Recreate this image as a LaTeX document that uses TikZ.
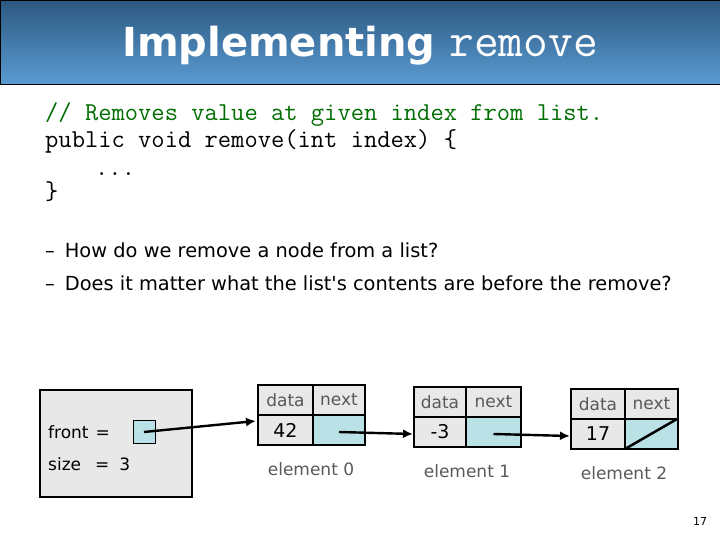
\documentclass[tikz,border=0pt]{standalone}
\usepackage{fontspec}
\setmainfont{DejaVu Sans}
\usetikzlibrary{arrows.meta}
\definecolor{cellblue}{RGB}{185,225,230}
\definecolor{cellgray}{RGB}{232,232,232}
\definecolor{cgreen}{RGB}{0,110,0}
\definecolor{htop}{RGB}{44,88,128}
\definecolor{hbot}{RGB}{90,155,210}
\tikzset{
  lbl/.style={font=\fontsize{17}{17}\selectfont,text=black!65},
  val/.style={font=\fontsize{19}{19}\selectfont},
  ptr/.style={line width=2.4pt,-{Latex[length=10pt,width=9pt]}},
  codet/.style={anchor=base west,inner sep=0pt,font=\ttfamily\fontsize{25.8}{25.8}\selectfont}
}
\begin{document}
\begin{tikzpicture}[x=1pt,y=-1pt]
\useasboundingbox (0,0) rectangle (720,540);
\shade[top color=htop,bottom color=hbot,draw=black,line width=0.8pt] (0,0) rectangle (720,84);
\node[text=white,anchor=base] (title) at (360,57) {\fontsize{40}{40}\selectfont\bfseries Implementing \ttfamily\mdseries\fontsize{48}{48}\selectfont remove};
\node[codet,text=cgreen] (c1) at (45,121) {// Removes value at given index from list.};
\node[codet] (c2) at (45,148) {public void remove(int index) \{};
\node[codet] (c3) at (95,176) {...};
\node[codet] (c4) at (45,200) {\}};
\node[anchor=base west,inner sep=0pt,font=\fontsize{19.4}{19.4}\selectfont] (b1) at (45,258) {–\hspace{10pt}How do we remove a node from a list?};
\node[anchor=base west,inner sep=0pt,font=\fontsize{19.4}{19.4}\selectfont] (b2) at (45,290) {–\hspace{10pt}Does it matter what the list\textquotesingle s contents are before the remove?};
% list object
\draw[line width=2.5pt,fill=cellgray] (40,390) rectangle (192,497);
\node[anchor=base west,inner sep=0pt,font=\fontsize{17}{17}\selectfont] (fr) at (48,438) {front\hspace{7pt}=};
\node[anchor=base west,inner sep=0pt,font=\fontsize{17}{17}\selectfont] (sz) at (48,470) {size\hspace{14pt}=\hspace{10pt}3};
\node[draw=black,line width=0.8pt,fill=cellblue,minimum width=22pt,minimum height=23pt,inner sep=0pt] (fb) at (144,431.5) {};
% nodes
\foreach \i/\x/\y/\s/\v in {0/258/385/313/42,1/414/387/466/-3,2/571/389/625/17}{
  \fill[cellgray] (\x,\y) rectangle (\x+107,\y+60);
  \fill[cellblue] (\s,\y+30) rectangle (\x+107,\y+60);
  \draw[line width=2.5pt] (\x,\y) rectangle (\x+107,\y+60);
  \draw[line width=2.5pt] (\x,\y+30) -- (\x+107,\y+30);
  \draw[line width=2.5pt] (\s,\y) -- (\s,\y+60);
  \node[lbl] (d\i) at ({(\x+\s)/2},\y+15) {data};
  \node[lbl] (n\i) at ({(\s+\x+107)/2},\y+15) {next};
  \node[val] (v\i) at ({(\x+\s)/2},\y+45) {\v};
  \coordinate (p\i) at ({(\s+\x+107)/2},\y+47);
  \coordinate (in\i) at (\x-1,\y+47);
  \node[lbl] (e\i) at (\x+53,\y+84) {element \i};
}
\draw[line width=2.5pt] (625,449) -- (677,419);
\coordinate (f0) at (144,432);
\coordinate (t0) at (256,421);
\draw[ptr] (f0) -- (t0);
\draw[ptr] (p0) -- (in1);
\draw[ptr] (p1) -- (in2);
\node[font=\fontsize{11}{11}\selectfont] (pg) at (700,521) {17};
\end{tikzpicture}
\end{document}
